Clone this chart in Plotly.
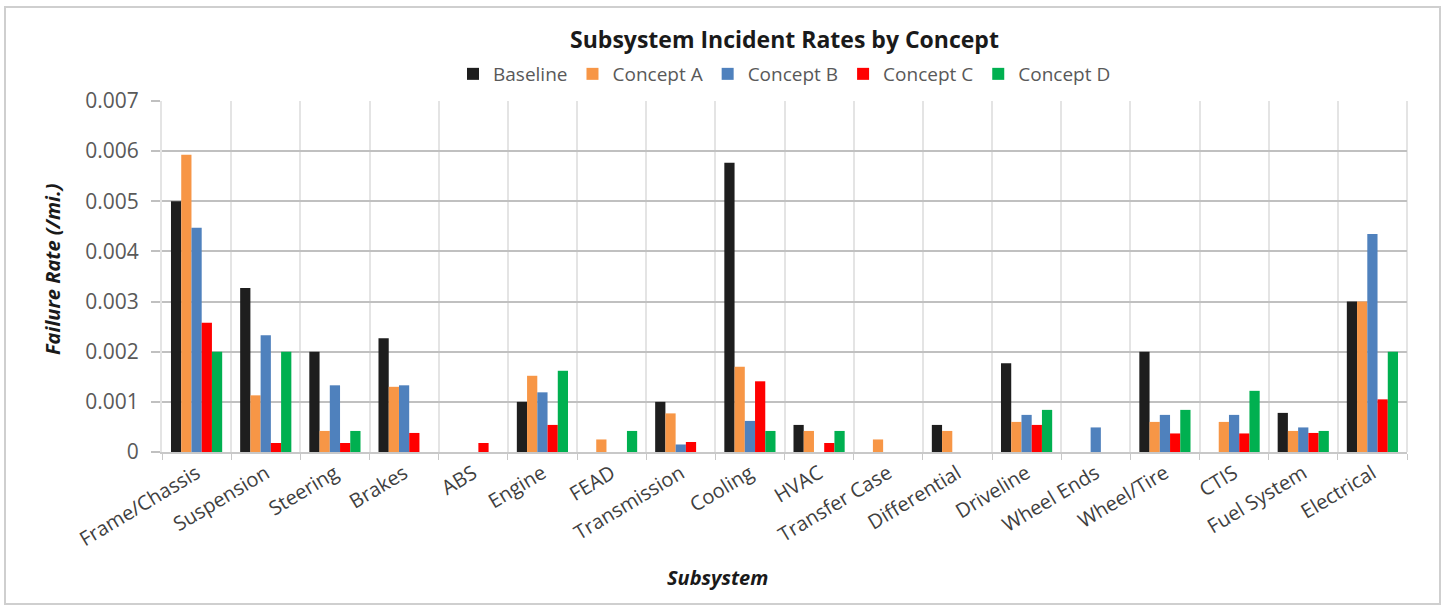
import plotly.graph_objects as go

# Subsystems on the category axis
subsystems = [
    "Frame/Chassis", "Suspension", "Steering", "Brakes", "ABS", "Engine",
    "FEAD", "Transmission", "Cooling", "HVAC", "Transfer Case", "Differential",
    "Driveline", "Wheel Ends", "Wheel/Tire", "CTIS", "Fuel System", "Electrical",
]

# Failure rates (/mi.) per concept, one value per subsystem
baseline = [0.0050, 0.00327, 0.0020, 0.00227, 0, 0.0010, 0, 0.0010, 0.00577, 0.00054,
            0, 0.00054, 0.00177, 0, 0.0020, 0, 0.00078, 0.0030]
concept_a = [0.00593, 0.00113, 0.00042, 0.00130, 0, 0.00152, 0.00025, 0.00077, 0.00170, 0.00042,
             0.00025, 0.00042, 0.00060, 0, 0.00060, 0.00060, 0.00042, 0.0030]
concept_b = [0.00447, 0.00233, 0.00133, 0.00133, 0, 0.00119, 0, 0.00015, 0.00062, 0,
             0, 0, 0.00074, 0.00049, 0.00074, 0.00074, 0.00049, 0.00435]
concept_c = [0.00258, 0.00018, 0.00018, 0.00038, 0.00018, 0.00054, 0, 0.00020, 0.00141, 0.00018,
             0, 0, 0.00054, 0, 0.00037, 0.00037, 0.00038, 0.00105]
concept_d = [0.0020, 0.0020, 0.00042, 0, 0, 0.00162, 0.00042, 0, 0.00042, 0.00042,
             0, 0, 0.00084, 0, 0.00084, 0.00122, 0.00042, 0.0020]

series_names = ["Baseline", "Concept A", "Concept B", "Concept C", "Concept D"]
series_values = [baseline, concept_a, concept_b, concept_c, concept_d]
series_colors = ["#1E1E1E", "#F79646", "#4F81BD", "#FF0000", "#00B050"]

y_tick_vals = [0, 0.001, 0.002, 0.003, 0.004, 0.005, 0.006, 0.007]
y_tick_text = ["0", "0.001", "0.002", "0.003", "0.004", "0.005", "0.006", "0.007"]

FONT = "Open Sans"
TICK_COLOR = "#595959"

fig = go.Figure()
for name, vals, color in zip(series_names, series_values, series_colors):
    fig.add_trace(go.Bar(
        name=name, x=subsystems, y=vals,
        marker=dict(color=color, line=dict(width=0)),
    ))

fig.update_layout(
    width=1445, height=607,
    margin=dict(l=162, r=38, t=101, b=155),
    paper_bgcolor="white", plot_bgcolor="white",
    barmode="group", bargap=0.26, bargroupgap=0,
    font=dict(family=FONT, color=TICK_COLOR),
    title=dict(
        text="<b>Subsystem Incident Rates by Concept</b>",
        x=0.5, xref="paper", xanchor="center",
        y=1 - 40 / 607, yref="container", yanchor="middle",
        font=dict(family=FONT, size=23, color="#1A1A1A"),
    ),
    legend=dict(
        orientation="h", x=0.5, xanchor="center",
        y=(452 - 74) / 351, yanchor="middle",
        font=dict(family=FONT, size=19, color=TICK_COLOR),
        itemwidth=30, tracegroupgap=0,
        bgcolor="rgba(0,0,0,0)",
    ),
    xaxis=dict(
        type="category", tickson="boundaries",
        showgrid=True, gridcolor="#E4E4E4", gridwidth=2,
        showline=True, linecolor="#C8C8C8", linewidth=2,
        ticks="outside", ticklen=6, tickcolor="#C8C8C8", tickwidth=1,
        tickangle=-31,
        tickfont=dict(family=FONT, size=20, color="#404040"),
        mirror=False,
    ),
    yaxis=dict(
        range=[0, 0.007],
        tickvals=y_tick_vals, ticktext=y_tick_text,
        showgrid=True, gridcolor="#C0C0C0", gridwidth=2,
        showline=True, linecolor="#E4E4E4", linewidth=2,
        ticks="outside", ticklen=9, tickcolor="#C0C0C0", tickwidth=2,
        ticklabelstandoff=8,
        tickfont=dict(family=FONT, size=21, color=TICK_COLOR),
        zeroline=False,
    ),
)

# Axis titles
fig.add_annotation(
    text="<b><i>Failure Rate (/mi.)</i></b>", textangle=-90,
    xref="paper", yref="paper", x=(52 - 162) / 1245, y=(452 - 269) / 351,
    xanchor="center", yanchor="middle", showarrow=False,
    font=dict(family=FONT, size=20, color="#1A1A1A"),
)
fig.add_annotation(
    text="<b><i>Subsystem</i></b>",
    xref="paper", yref="paper", x=(717 - 162) / 1245, y=(452 - 577) / 351,
    xanchor="center", yanchor="middle", showarrow=False,
    font=dict(family=FONT, size=20, color="#1A1A1A"),
)

# Right edge of the plot area and outer chart frame
fig.add_shape(type="line", xref="paper", yref="paper", x0=1, x1=1, y0=0, y1=1,
              line=dict(color="#E4E4E4", width=2), layer="below")
fig.add_shape(type="rect", xref="paper", yref="paper",
              x0=(5 - 162) / 1245, x1=(1440 - 162) / 1245,
              y0=(452 - 604) / 351, y1=(452 - 7) / 351,
              line=dict(color="#CFCFCF", width=2), fillcolor="rgba(0,0,0,0)")

fig.write_html("out.html")
